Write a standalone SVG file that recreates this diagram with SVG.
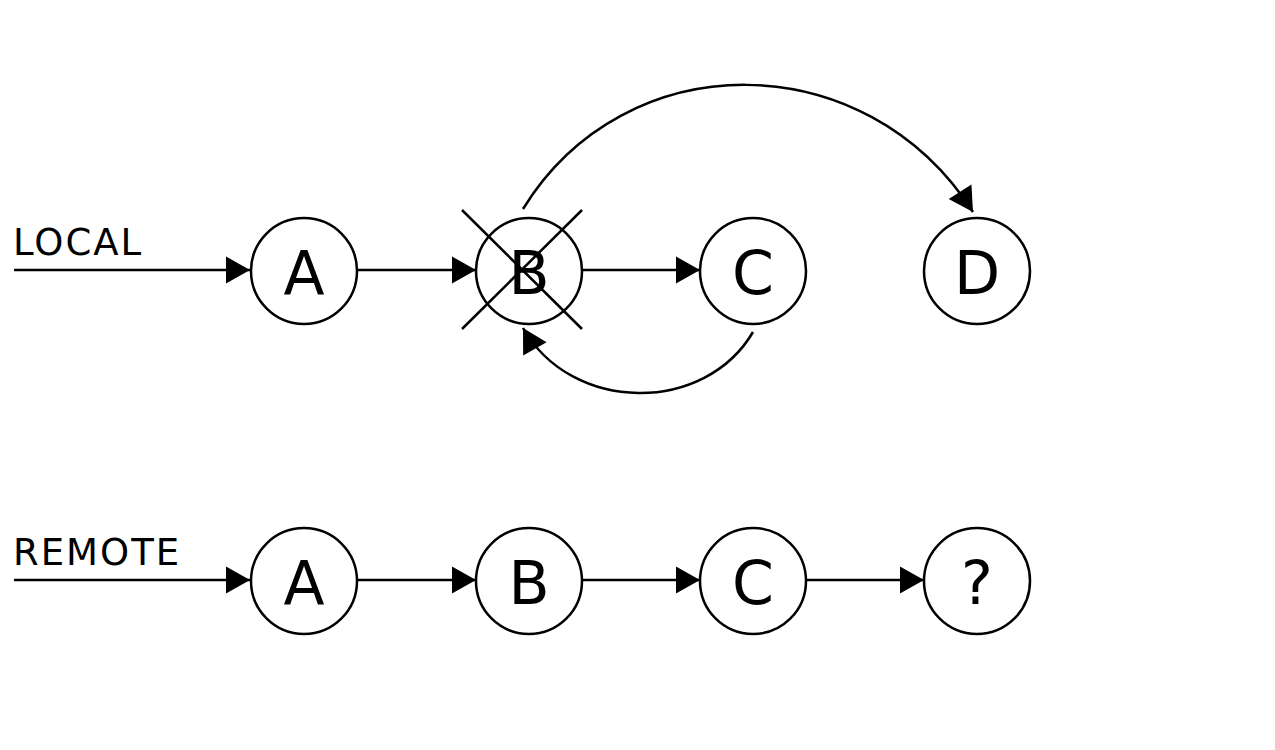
<svg xmlns="http://www.w3.org/2000/svg" width="1275" height="750" viewBox="0 0 1275 750">
<style>
.node circle{fill:#fff;stroke:#000;stroke-width:2.5}
.node text{font-family:"DejaVu Sans",Verdana,sans-serif;font-size:60px;text-anchor:middle;fill:#000}
.lbl{font-family:"DejaVu Sans",Verdana,sans-serif;font-size:37px;letter-spacing:2px;fill:#000}
.edge{fill:none;stroke:#000;stroke-width:2.5;marker-end:url(#arr)}
.cross{stroke:#000;stroke-width:2.5}
</style>
<defs>
<marker id="arr" markerUnits="userSpaceOnUse" markerWidth="24" markerHeight="27" refX="24" refY="13.5" orient="auto" overflow="visible">
<path d="M0,0 L24,13.5 L0,27 z" fill="#000"/>
</marker>
</defs>
<rect width="1275" height="750" fill="#fff"/>
<text class="lbl" x="13" y="255">LOCAL</text>
<text class="lbl" x="13" y="565">REMOTE</text>
<g id="connectors">
<line class="edge" x1="14" y1="270" x2="250" y2="270"/>
<line class="edge" x1="357" y1="270" x2="476" y2="270"/>
<line class="edge" x1="582" y1="270" x2="700" y2="270"/>
<path class="edge" d="M523,209 C625,43 865,43 973,212"/>
<path class="edge" d="M753,332 C705,414 572,414 523,328"/>
<line class="edge" x1="14" y1="580" x2="250" y2="580"/>
<line class="edge" x1="357" y1="580" x2="476" y2="580"/>
<line class="edge" x1="582" y1="580" x2="700" y2="580"/>
<line class="edge" x1="806" y1="580" x2="924" y2="580"/>
</g>
<g id="local-A" class="node"><circle cx="304" cy="271" r="53"/><text x="304" y="294">A</text></g>
<g id="local-B" class="node"><circle cx="529" cy="271" r="53"/><text x="529" y="294">B</text></g>
<g id="local-C" class="node"><circle cx="753" cy="271" r="53"/><text x="753" y="294">C</text></g>
<g id="local-D" class="node"><circle cx="977" cy="271" r="53"/><text x="977" y="294">D</text></g>
<g id="cross-B">
<line class="cross" x1="462" y1="210" x2="582" y2="329"/>
<line class="cross" x1="582" y1="210" x2="462" y2="329"/>
</g>
<g id="remote-A" class="node"><circle cx="304" cy="581" r="53"/><text x="304" y="604">A</text></g>
<g id="remote-B" class="node"><circle cx="529" cy="581" r="53"/><text x="529" y="604">B</text></g>
<g id="remote-C" class="node"><circle cx="753" cy="581" r="53"/><text x="753" y="604">C</text></g>
<g id="remote-Q" class="node"><circle cx="977" cy="581" r="53"/><text x="977" y="604">?</text></g>
</svg>
